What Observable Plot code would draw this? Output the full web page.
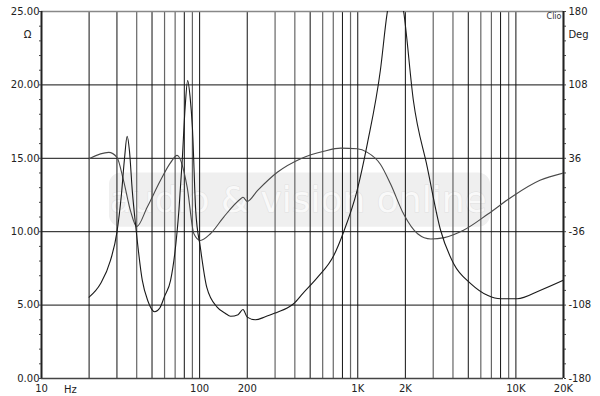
<!DOCTYPE html>
<html>
<head>
<meta charset="utf-8">
<script src="https://cdn.jsdelivr.net/npm/d3@7"></script>
<script src="https://cdn.jsdelivr.net/npm/@observablehq/plot@0.6"></script>
<style>
  html, body { margin: 0; padding: 0; background: #fff; }
  #chart { width: 600px; height: 396px; }
</style>
</head>
<body>
<div id="chart"></div>
<script>
// Impedance magnitude (Ohm) vs frequency (Hz)
const impFreq = [20, 23.6, 27.3, 30, 32, 33.5, 34.8, 36, 37.5, 39.5, 43.4, 47, 52, 56, 60, 65.5, 69.6, 74, 77.6, 81, 84, 87, 90, 94.5, 101, 111, 129, 145, 157, 175, 188, 200, 225, 260, 310, 358, 393, 450, 558, 705, 815, 990, 1150, 1390, 1530, 1730, 1950, 2250, 2750, 3340, 4050, 5200, 6660, 8000, 10200, 14200, 20000];
const impOhm  = [5.54, 6.45, 8.04, 9.97, 12.5, 15.0, 16.5, 15.5, 12.8, 10.3, 6.68, 5.3, 4.55, 4.8, 5.6, 6.68, 8.5, 11.5, 14.85, 18.5, 20.3, 19.2, 17.1, 11.4, 8.94, 6.2, 4.86, 4.45, 4.24, 4.35, 4.7, 4.18, 4.0, 4.2, 4.52, 4.8, 5.09, 5.8, 6.9, 8.38, 10.0, 12.8, 16.0, 21.0, 24.8, 27.5, 25.0, 18.9, 14.4, 10.1, 7.8, 6.45, 5.65, 5.43, 5.43, 6.0, 6.7];

// Impedance phase (degrees) vs frequency (Hz)
const phaseFreq = [20, 26.6, 30, 33, 36.6, 40, 46.6, 56.6, 65.5, 72, 83.5, 92, 101, 117, 142, 182, 188, 200, 232, 310, 436, 610, 780, 990, 1150, 1390, 1610, 1950, 2390, 2900, 3530, 4660, 6660, 9500, 14200, 20000];
const phaseDeg  = [35.6, 41.8, 37.0, 14.4, -15.8, -31, -12, 14.4, 31.7, 38.9, 7.2, -38, -44.6, -38, -21.6, -3.7, -2.2, -6.3, 4.3, 22.3, 35.6, 42.9, 46, 45.4, 41.8, 30.2, 11, -18.7, -38, -43.2, -41.8, -34.6, -18.7, -1.4, 14.4, 21.6];

// Axis ticks and labels
const xTicks = [10, 50, 100, 200, 500, 1000, 2000, 5000, 10000, 20000];
const xTickLabels = ["10", "50", "100", "200", "500", "1K", "2K", "5K", "10K", "20K"];
const ohmTicks = [0, 5, 10, 15, 20, 25];
const ohmTickLabels = ["0.00", "5.00", "10.00", "15.00", "20.00", "25.00"];
const degTicks = [-180, -108, -36, 36, 108, 180];
const degTickLabels = ["-180", "-108", "-36", "36", "108", "180"];

// phase axis maps -180..180 onto the 0..25 Ohm scale
const degToOhm = d => (d + 180) * 25 / 360;

const impData = impFreq.map((f, i) => ({f, v: impOhm[i]}));
const phaseData = phaseFreq.map((f, i) => ({f, v: degToOhm(phaseDeg[i])}));

const gridFreqs = [];
for (const dec of [10, 100, 1000]) for (let m = 2; m <= 10; m++) gridFreqs.push(m * dec);
gridFreqs.push(20000);
const darkGrid = new Set([20, 30, 50, 80, 100, 200, 500, 800, 1000, 2000, 5000, 8000, 10000]);

const xLabelMap = new Map(xTicks.map((t, i) => [t, xTickLabels[i]]));
const ohmLabelMap = new Map(ohmTicks.map((t, i) => [t, ohmTickLabels[i]]));
const degPos = degTicks.map(degToOhm);
const degLabelMap = new Map(degPos.map((t, i) => [t, degTickLabels[i]]));

const font = "DejaVu Sans, Verdana, sans-serif";

const chart = Plot.plot({
  width: 600,
  height: 396,
  marginLeft: 41,
  marginRight: 37,
  marginTop: 11,
  marginBottom: 18,
  style: {fontFamily: font, fontSize: "10px", background: "#fff", color: "#222"},
  x: {type: "log", domain: [10, 20000], label: null},
  y: {domain: [0, 25], label: null},
  marks: [
    // faint watermark
    Plot.rect([0], {x1: 26.9, x2: 6920, y1: 10.3, y2: 14.0, fill: "#efefef", r: 12}),
    Plot.text(["audio & vision online"], {x: 420, y: 12.1, fontSize: 36, fill: "#f9f9f9", stroke: "#e0e0e0", strokeWidth: 1, fontFamily: "DejaVu Sans, sans-serif", textAnchor: "middle", lineAnchor: "middle"}),
    // grid
    Plot.ruleX(gridFreqs.filter(f => !darkGrid.has(f)), {stroke: "#666", strokeWidth: 1.2}),
    Plot.ruleX(gridFreqs.filter(f => darkGrid.has(f)), {stroke: "#111", strokeWidth: 1}),
    Plot.ruleY([5, 10, 15, 20], {stroke: "#111", strokeWidth: 1}),
    Plot.ruleY([25], {stroke: "#888", strokeWidth: 1.5}),
    Plot.ruleY([0], {stroke: "#444", strokeWidth: 1.5}),
    Plot.ruleX([10], {stroke: "#222", strokeWidth: 2}),
    Plot.ruleX([20000], {stroke: "#222", strokeWidth: 2}),
    // minor ticks on both vertical axes
    Plot.axisY(d3.range(0, 26), {anchor: "left", tickSize: 2, tickFormat: () => "", stroke: "#444", label: null}),
    Plot.axisY(d3.range(0, 26), {anchor: "right", tickSize: 2, tickFormat: () => "", stroke: "#444", label: null}),
    // curves
    Plot.line(phaseData, {x: "f", y: "v", curve: "monotone-x", stroke: "#4a4a4a", strokeWidth: 1.1, clip: true}),
    Plot.line(impData, {x: "f", y: "v", curve: "monotone-x", stroke: "#1a1a1a", strokeWidth: 1.1, clip: true}),
    // axes
    Plot.axisX(xTicks, {anchor: "bottom", tickSize: 0, tickPadding: 6, tickFormat: d => xLabelMap.get(d), fill: "#222", label: null}),
    Plot.text(["Hz"], {x: 15.25, frameAnchor: "bottom", dy: 11, lineAnchor: "middle", textAnchor: "middle", fill: "#222"}),
    Plot.axisY(ohmTicks, {anchor: "left", tickSize: 0, tickPadding: 2, tickFormat: d => ohmLabelMap.get(d), fill: "#222", label: null}),
    Plot.axisY(degPos, {anchor: "right", tickSize: 0, tickPadding: 5, tickFormat: d => degLabelMap.get(d), fill: "#222", label: null}),
    Plot.text(["Ω"], {frameAnchor: "top-left", dx: -14, dy: 23, textAnchor: "middle", lineAnchor: "middle", fill: "#222"}),
    Plot.text(["Deg"], {frameAnchor: "top-right", dx: 15, dy: 23, textAnchor: "middle", lineAnchor: "middle", fill: "#222"}),
    Plot.text(["Clio"], {frameAnchor: "top-right", dx: -2, dy: 5, textAnchor: "end", lineAnchor: "middle", fontSize: 8, fill: "#333"})
  ]
});
document.getElementById("chart").appendChild(chart);
</script>
</body>
</html>
